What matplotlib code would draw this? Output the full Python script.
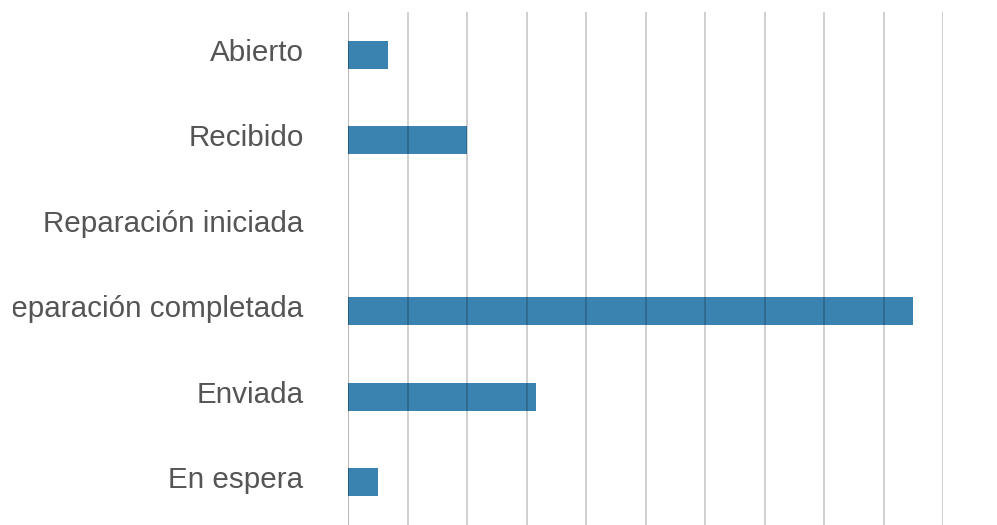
import matplotlib
matplotlib.use("Agg")
import matplotlib.pyplot as plt
import matplotlib.transforms as mtransforms
import numpy as np

categories = ["Abierto", "Recibido", "Reparación iniciada",
              "Reparación completada", "Enviada", "En espera"]
values = [4, 12, 0, 57, 19, 3]
x_ticks = [0, 6, 12, 18, 24, 30, 36, 42, 48, 54, 60]

plt.rcParams['font.family'] = ['Liberation Sans', 'DejaVu Sans']

fig = plt.figure(figsize=(9.97, 5.25), dpi=100)
ax = fig.add_axes([348/997, 0.0, (943-348)/997, 1 - 12/525])

y = np.arange(len(categories))
ax.barh(y, values, height=0.33, color='#3a82b0', zorder=2)

ax.set_xlim(0, 60)
ax.set_ylim(len(categories) - 0.5, -0.5)
ax.set_xticks(x_ticks)
ax.set_xticklabels([])
ax.set_yticks(y)
ax.set_yticklabels(categories, fontsize=21.3, color='#555555')
ax.tick_params(axis='both', length=0)
ax.tick_params(axis='y', pad=32)
for s in ax.spines.values():
    s.set_visible(False)
for i, xv in enumerate(x_ticks):
    ax.axvline(xv, color='black', alpha=0.3 if i == 0 else 0.2, lw=1.3, zorder=3)

shift = mtransforms.ScaledTranslation(0, 5/100, fig.dpi_scale_trans)
clip = mtransforms.TransformedBbox(
    mtransforms.Bbox([[13/997, 0], [1, 1]]), fig.transFigure)
for lbl in ax.get_yticklabels():
    lbl.set_transform(lbl.get_transform() + shift)
    lbl.set_clip_box(clip)
    lbl.set_clip_on(True)

fig.savefig("out.png", dpi=100)
